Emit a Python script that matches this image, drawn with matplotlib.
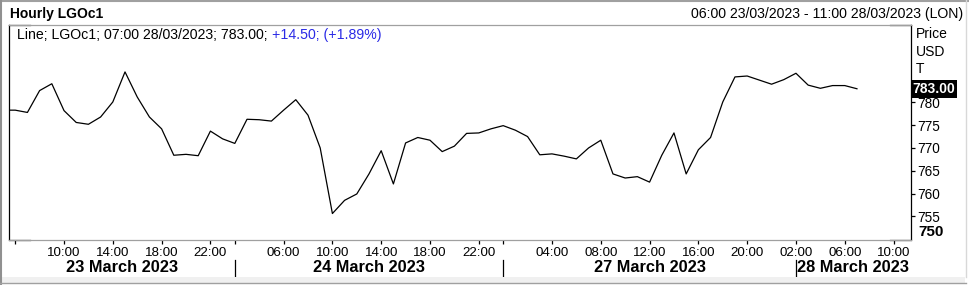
import matplotlib
matplotlib.use("Agg")
import matplotlib.pyplot as plt
import matplotlib.transforms as mtransforms
from matplotlib.patches import Rectangle
from matplotlib.lines import Line2D

plt.rcParams["font.family"] = ["Liberation Sans", "DejaVu Sans"]

# -- Data (hourly closes, x = trading-hour slot, 0 = 06:00 23/03) ---------------
slots = list(range(-1, 70))
prices = [778.3, 778.3, 777.8, 782.6, 784.1, 778.2, 775.6, 775.2, 776.8, 780.1,
          786.7, 781.2, 776.8, 774.2, 768.4, 768.6, 768.3, 773.7, 772.0, 771.0,
          776.3, 776.2, 775.9, 778.3, 780.6, 777.2, 770.0, 755.6, 758.5, 759.9,
          764.3, 769.4, 762.1, 771.1, 772.3, 771.7, 769.2, 770.4, 773.2, 773.3,
          774.2, 774.9, 773.9, 772.5, 768.5, 768.7, 768.2, 767.6, 770.0, 771.7,
          764.3, 763.4, 763.7, 762.5, 768.4, 773.3, 764.3, 769.6, 772.3, 780.1,
          785.6, 785.8, 784.9, 784.0, 785.0, 786.4, 783.8, 783.1, 783.7, 783.7,
          783.0]

tick_pos = [0, 4, 8, 12, 16, 18, 22, 26, 30, 34, 38, 40, 44, 48, 52, 56, 60,
            64, 68, 72]
tick_labels = ["", "10:00", "14:00", "18:00", "22:00", "", "06:00", "10:00",
               "14:00", "18:00", "22:00", "", "04:00", "08:00", "12:00",
               "16:00", "20:00", "02:00", "06:00", "10:00"]

day_starts = [18, 40, 64]
day_labels = ["23 March 2023", "24 March 2023", "27 March 2023", "28 March 2023"]

price_ticks = [755, 760, 765, 770, 775, 780]
last_price = 783.00
legend_black = "Line; LGOc1; 07:00 28/03/2023; 783.00; "
legend_blue = "+14.50; (+1.89%)"

# -- Figure --------------------------------------------------------------------
W, H = 969, 285
fig = plt.figure(figsize=(W / 100, H / 100), dpi=100, facecolor="white")


def px(x, y):
    return x / W, 1 - y / H


# window frame
fig.add_artist(Rectangle(px(0, 283), 965 / W, 6 / H, transform=fig.transFigure,
                         fc="#f0f0f0", ec="none"))
fig.add_artist(Line2D([0, 1], [1 - 1 / H] * 2, color="#a0a0a0", lw=1.5))
fig.add_artist(Line2D([1 / W] * 2, [0, 1], color="#909090", lw=1.5))
fig.add_artist(Line2D([965.5 / W] * 2, [1 - 277 / H, 1], color="#d8d8d8", lw=1))
fig.add_artist(Line2D([0, 965.5 / W], [1 - 283 / H] * 2, color="#a0a0a0", lw=1))

ax = fig.add_axes([9 / W, 1 - 239.5 / H, (911 - 9) / W, (239.5 - 25) / H])
ax.plot(slots, prices, color="black", lw=0.9)
ax.set_xlim(-0.51, 73.43)
ax.set_ylim(749.9, 797)

for side in ["top", "bottom"]:
    ax.spines[side].set_color("#a0a0a0")
for side in ["left", "right"]:
    ax.spines[side].set_color("black")
for s in ax.spines.values():
    s.set_linewidth(0.9)
# black corner pieces on the gray borders
cw = 21 / 902
for yy in [0, 1]:
    ax.plot([0, cw], [yy, yy], color="black", lw=0.9, transform=ax.transAxes,
            clip_on=False)
    ax.plot([1 - cw, 1], [yy, yy], color="black", lw=0.9,
            transform=ax.transAxes, clip_on=False)

ax.set_xticks(tick_pos)
ax.set_xticklabels(tick_labels, fontsize=9.6)
ax.tick_params(axis="x", length=3, width=0.9, pad=2.5)

ax.yaxis.tick_right()
ax.set_yticks(price_ticks)
ax.set_yticklabels([str(v) for v in price_ticks], fontsize=9.8)
ax.tick_params(axis="y", length=3.2, width=0.9, pad=1.2)

# day separators and labels
tr = mtransforms.blended_transform_factory(ax.transData, fig.transFigure)
for d in day_starts:
    ax.plot([d, d], [1 - 260 / H, 1 - 278.5 / H], color="black", lw=0.9,
            transform=tr, clip_on=False)
x0, x1 = ax.get_xlim()
bounds = [x0] + day_starts + [x1]
for i, lab in enumerate(day_labels):
    ax.text((bounds[i] + bounds[i + 1]) / 2, 1 - 268 / H, lab, transform=tr,
            ha="center", va="center", fontsize=11.8, fontweight="bold")

# last price box
trp = mtransforms.blended_transform_factory(ax.transAxes, ax.transData)
ax.text(1.002, last_price, f"{last_price:.2f}", transform=trp, ha="left",
        va="center", color="white", fontsize=10, fontweight="bold",
        bbox=dict(boxstyle="square,pad=0.14", fc="black", ec="none"))

# bottom bold label of price axis
fig.text(*px(918, 231.5), "750", ha="left", va="center", fontsize=11,
         fontweight="bold")

# header texts
fig.text(*px(10, 18), "Hourly LGOc1", ha="left", va="baseline", fontsize=10,
         fontweight="bold")
fig.text(*px(963, 18), "06:00 23/03/2023 - 11:00 28/03/2023 (LON)",
         ha="right", va="baseline", fontsize=10.2)
for lab, yb in [("Price", 37.7), ("USD", 56), ("T", 73.3)]:
    fig.text(*px(916, yb), lab, ha="left", va="baseline", fontsize=10)

t = fig.text(*px(17, 39.4), legend_black, ha="left", va="baseline",
             fontsize=10.2)
fig.canvas.draw()
bb = t.get_window_extent()
fig.text(bb.x1 / W, 1 - 39.4 / H, legend_blue, ha="left", va="baseline",
         fontsize=10.2, color="#2a2ae6")

fig.savefig("out.png", dpi=100, facecolor="white")
